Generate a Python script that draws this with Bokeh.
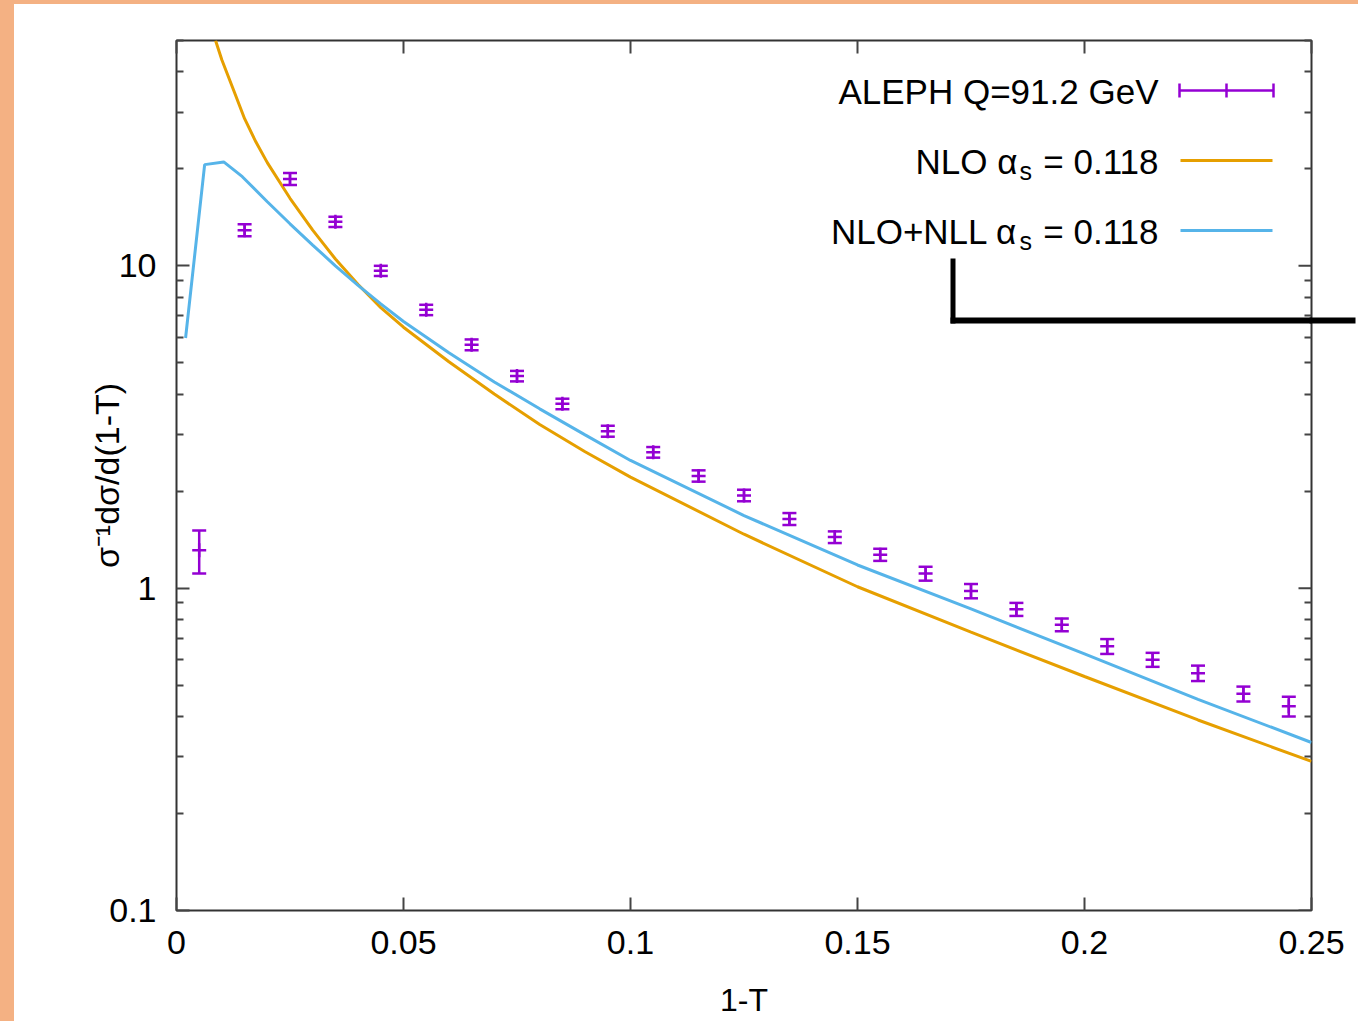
import math
from bokeh.plotting import figure
from bokeh.models import (Range1d, LogAxis, LinearAxis, FixedTicker, CustomJSTickFormatter,
                          Label, BoxAnnotation, Div, ColumnDataSource)
from bokeh.layouts import row, column
from bokeh.embed import file_html
from bokeh.resources import INLINE

# ---------------- data ----------------
thrust_bins = [0.005, 0.015, 0.025, 0.035, 0.045, 0.055, 0.065, 0.075, 0.085, 0.095,
               0.105, 0.115, 0.125, 0.135, 0.145, 0.155, 0.165, 0.175, 0.185, 0.195,
               0.205, 0.215, 0.225, 0.235, 0.245]
aleph_y = [1.31, 12.9, 18.6, 13.7, 9.65, 7.30, 5.69, 4.55, 3.73, 3.07,
           2.64, 2.23, 1.94, 1.64, 1.44, 1.27, 1.11, 0.98, 0.86, 0.77,
           0.66, 0.60, 0.545, 0.47, 0.43]
aleph_err = [0.20, 0.55, 0.80, 0.50, 0.35, 0.27, 0.22, 0.17, 0.14, 0.12,
             0.10, 0.09, 0.08, 0.07, 0.06, 0.055, 0.055, 0.05, 0.04, 0.035,
             0.035, 0.03, 0.03, 0.025, 0.03]

nlo_x = [0.0086, 0.010, 0.0125, 0.015, 0.0175, 0.020, 0.025, 0.030, 0.035, 0.040,
         0.045, 0.050, 0.060, 0.070, 0.080, 0.090, 0.100, 0.125, 0.150, 0.175,
         0.200, 0.225, 0.250]
nlo_y = [50.0, 43.5, 35.3, 28.6, 24.2, 20.9, 16.2, 12.9, 10.5, 8.75,
         7.42, 6.45, 5.04, 4.00, 3.22, 2.65, 2.21, 1.47, 1.01, 0.73,
         0.532, 0.39, 0.29]

nll_x = [0.0020, 0.0062, 0.0104, 0.0145, 0.020, 0.025, 0.030, 0.035, 0.040, 0.045,
         0.050, 0.060, 0.070, 0.080, 0.090, 0.100, 0.125, 0.150, 0.175, 0.200,
         0.225, 0.250]
nll_y = [5.97, 20.6, 21.0, 18.9, 15.8, 13.5, 11.6, 10.0, 8.70, 7.62,
         6.72, 5.37, 4.36, 3.60, 2.99, 2.49, 1.68, 1.18, 0.862, 0.625,
         0.452, 0.332]

x_ticks = [0.0, 0.05, 0.1, 0.15, 0.2, 0.25]
x_tick_labels = ["0", "0.05", "0.1", "0.15", "0.2", "0.25"]
y_ticks = [0.1, 1.0, 10.0]
y_tick_labels = ["0.1", "1", "10"]
y_minor = [m * 10.0 ** e for e in (-1, 0, 1) for m in range(2, 10) if m * 10.0 ** e <= 50]

legend_labels = ["ALEPH Q=91.2 GeV", "NLO α", "NLO+NLL α"]
alpha_value = "= 0.118"
x_title = "1-T"
y_title = "σ⁻¹dσ/d(1-T)"

# ---------------- styling ----------------
PURPLE = "#9400D3"
ORANGE = "#E69F00"
BLUE = "#56B4E9"
PEACH = "#F4B183"
TICK = "#444444"
FONT = "Liberation Sans"

X_MIN, X_MAX = 0.0, 0.25
Y_MIN, Y_MAX = 0.1, 50.0
FRAME_L, FRAME_T, FRAME_W, FRAME_H = 176, 40, 1135, 870   # page pixels
FRAME_R = FRAME_L + FRAME_W
CANVAS_X0, CANVAS_Y0 = 14, 4                               # where the plot canvas starts
RIGHT_BORDER = 47


def dx(px):
    return X_MIN + (px - FRAME_L) / FRAME_W * (X_MAX - X_MIN)


def dy(py):
    lo, hi = math.log10(Y_MIN), math.log10(Y_MAX)
    return 10 ** (lo + (FRAME_T + FRAME_H - py) / FRAME_H * (hi - lo))


p = figure(frame_width=FRAME_W, frame_height=FRAME_H,
           x_range=Range1d(X_MIN, X_MAX), y_range=Range1d(Y_MIN, Y_MAX),
           y_axis_type="log", output_backend="svg", toolbar_location=None,
           min_border_left=FRAME_L - CANVAS_X0, min_border_right=RIGHT_BORDER,
           min_border_top=FRAME_T - CANVAS_Y0, min_border_bottom=111,
           background_fill_color="white", border_fill_color="white",
           outline_line_color="#333333", outline_line_width=2)
p.xgrid.visible = False
p.ygrid.visible = False

fmt_code = """
for (let i = 0; i < vals.length; i++) {
  if (Math.abs(vals[i] - tick) <= 1e-9 * (1 + Math.abs(vals[i]))) return labs[i];
}
return "";
"""
x_fmt = CustomJSTickFormatter(args=dict(vals=x_ticks, labs=x_tick_labels), code=fmt_code)
y_fmt = CustomJSTickFormatter(args=dict(vals=y_ticks, labs=y_tick_labels), code=fmt_code)


def style_axis(ax, show):
    ax.axis_line_color = None
    ax.major_tick_in = 13
    ax.major_tick_out = 0
    ax.minor_tick_in = 7
    ax.minor_tick_out = 0
    ax.major_tick_line_color = TICK
    ax.major_tick_line_width = 2
    ax.minor_tick_line_color = TICK
    ax.minor_tick_line_width = 2
    ax.major_label_text_font = FONT
    ax.major_label_text_color = "black"
    ax.major_label_text_font_size = "34px" if show else "0px"


xb = p.xaxis[0]
xb.ticker = FixedTicker(ticks=x_ticks, minor_ticks=[])
xb.formatter = x_fmt
style_axis(xb, True)
xb.major_label_standoff = 20
xb.axis_label = x_title
xb.axis_label_text_font = FONT
xb.axis_label_text_font_size = "32px"
xb.axis_label_text_font_style = "normal"
xb.axis_label_text_color = "black"
xb.axis_label_standoff = 25

yl = p.yaxis[0]
yl.ticker = FixedTicker(ticks=y_ticks, minor_ticks=y_minor)
yl.formatter = y_fmt
style_axis(yl, True)
yl.major_label_standoff = 20
yl.axis_label = y_title
yl.axis_label_text_font = FONT
yl.axis_label_text_font_size = "34px"
yl.axis_label_text_font_style = "normal"
yl.axis_label_text_color = "black"
yl.axis_label_standoff = -20

xt = LinearAxis(ticker=FixedTicker(ticks=x_ticks, minor_ticks=[]), formatter=x_fmt)
style_axis(xt, False)
p.add_layout(xt, "above")

# right side: mirror minor ticks (inward) + the overlay bracket's arm (outward major tick)
BRACKET_Y = 320
yr = LogAxis(ticker=FixedTicker(ticks=[dy(BRACKET_Y)], minor_ticks=y_minor), formatter=y_fmt)
style_axis(yr, False)
yr.major_tick_in = 2
yr.major_tick_out = RIGHT_BORDER - 3
yr.major_tick_line_color = "black"
yr.major_tick_line_width = 6
yr.major_label_standoff = 0
p.add_layout(yr, "right")

# mirror major ticks on the right border
tick_len = dx(FRAME_R) - dx(FRAME_R - 13)
p.segment(x0=[X_MAX - tick_len] * len(y_ticks), y0=y_ticks, x1=[X_MAX] * len(y_ticks), y1=y_ticks,
          line_color=TICK, line_width=2)

# ---------------- curves ----------------
p.line(nlo_x, nlo_y, line_color=ORANGE, line_width=3)
p.line(nll_x, nll_y, line_color=BLUE, line_width=3)

# ---------------- data with error bars ----------------
src = ColumnDataSource(dict(
    x=thrust_bins, y=aleph_y,
    lo=[v - e for v, e in zip(aleph_y, aleph_err)],
    hi=[v + e for v, e in zip(aleph_y, aleph_err)],
))
p.segment("x", "lo", "x", "hi", source=src, line_color=PURPLE, line_width=2.5)
p.scatter("x", "lo", source=src, marker="dash", size=14, line_color=PURPLE, line_width=2.5)
p.scatter("x", "hi", source=src, marker="dash", size=14, line_color=PURPLE, line_width=2.5)
p.scatter("x", "y", source=src, marker="cross", size=14, line_color=PURPLE, line_width=2.5)

# ---------------- key (gnuplot style: text left, sample right) ----------------
LEG_TXT_R = 1158
SAMPLE_L, SAMPLE_R = 1179, 1273
row_y = [90, 160, 230]          # sample rows (page px)
row_base = [91, 161, 231]       # text anchor rows (page px)

p.add_layout(Label(x=dx(LEG_TXT_R), y=dy(row_base[0]), text=legend_labels[0],
                   text_align="right", text_baseline="alphabetic",
                   text_font=FONT, text_font_size="35px", text_color="black"))
for i in (1, 2):
    p.add_layout(Label(x=dx(1017), y=dy(row_base[i]), text=legend_labels[i],
                       text_align="right", text_baseline="alphabetic",
                       text_font=FONT, text_font_size="35px", text_color="black"))
    p.add_layout(Label(x=dx(1019), y=dy(row_base[i] + 9), text="s",
                       text_align="left", text_baseline="alphabetic",
                       text_font=FONT, text_font_size="25px", text_color="black"))
    p.add_layout(Label(x=dx(LEG_TXT_R), y=dy(row_base[i]), text=alpha_value,
                       text_align="right", text_baseline="alphabetic",
                       text_font=FONT, text_font_size="35px", text_color="black"))

# sample: error bar
p.segment(x0=[dx(SAMPLE_L)], y0=[dy(row_y[0])], x1=[dx(SAMPLE_R)], y1=[dy(row_y[0])],
          line_color=PURPLE, line_width=2.5)
p.segment(x0=[dx(SAMPLE_L), dx(SAMPLE_R), dx(1226)],
          y0=[dy(row_y[0] - 7)] * 3,
          x1=[dx(SAMPLE_L), dx(SAMPLE_R), dx(1226)],
          y1=[dy(row_y[0] + 7)] * 3,
          line_color=PURPLE, line_width=2.5)
# sample: lines
p.segment(x0=[dx(1180)], y0=[dy(row_y[1])], x1=[dx(1272)], y1=[dy(row_y[1])],
          line_color=ORANGE, line_width=3)
p.segment(x0=[dx(1180)], y0=[dy(row_y[2])], x1=[dx(1272)], y1=[dy(row_y[2])],
          line_color=BLUE, line_width=3)

# ---------------- black bracket overlay (canvas px) ----------------
def cx(px):
    return px - CANVAS_X0


def cy(py):
    return py - CANVAS_Y0


p.add_layout(BoxAnnotation(left=cx(950), right=cx(955), top=cy(258), bottom=cy(BRACKET_Y + 3),
                           left_units="canvas", right_units="canvas",
                           top_units="canvas", bottom_units="canvas",
                           fill_color="black", fill_alpha=1.0, line_color=None))
p.add_layout(BoxAnnotation(left=cx(950), right=cx(FRAME_R), top=cy(BRACKET_Y - 3),
                           bottom=cy(BRACKET_Y + 3),
                           left_units="canvas", right_units="canvas",
                           top_units="canvas", bottom_units="canvas",
                           fill_color="black", fill_alpha=1.0, line_color=None))

top_strip = Div(text="", width=1358, height=CANVAS_Y0, margin=(0, 0, 0, 0),
                styles={"background-color": PEACH})
left_strip = Div(text="", width=CANVAS_X0, height=1021 - CANVAS_Y0, margin=(0, 0, 0, 0),
                 styles={"background-color": PEACH})

layout = column(top_strip, row(left_strip, p, spacing=0), spacing=0)
open("out.html", "w").write(file_html(layout, INLINE))
